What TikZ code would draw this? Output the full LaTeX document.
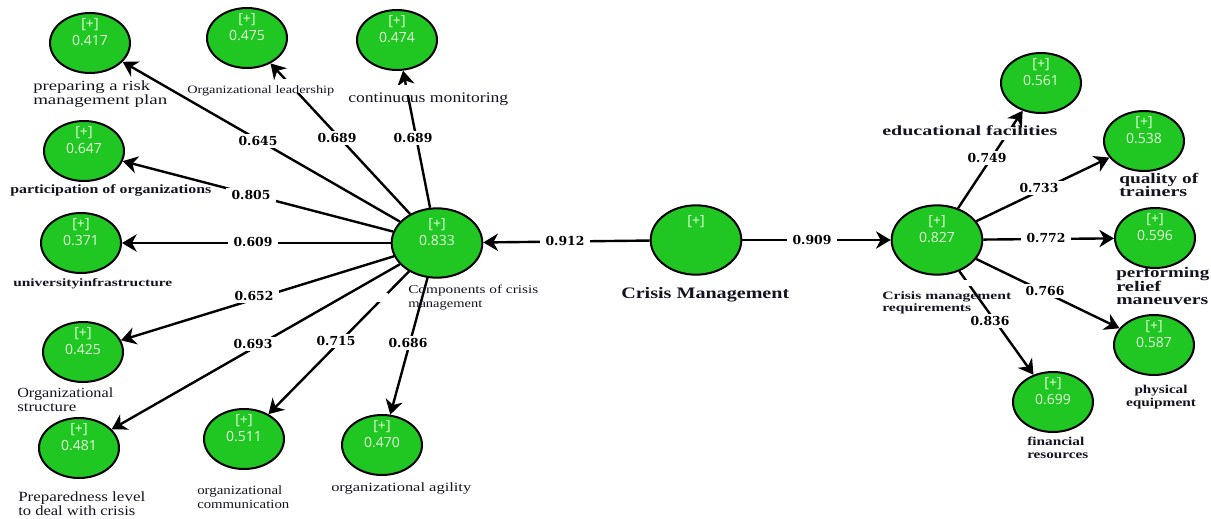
\documentclass[tikz,border=0pt]{standalone}
\usepackage{fontspec}
\usepackage{graphicx}
\setmainfont{Liberation Serif}
\newfontfamily\valfont{Open Sans}
\newfontfamily\wgtfont[BoldFont={DejaVu Serif Bold}]{DejaVu Serif}
\usetikzlibrary{shapes.geometric,arrows.meta}
\newdimen\pxu \pxu=0.75pt
\newcommand{\fitw}[2]{\resizebox{#1\pxu}{\height}{#2}}
\newcommand{\lv}[1]{\makebox[0pt]{\raisebox{-1.9pt}[0pt][0pt]{#1}}\makebox[0pt]{\raisebox{10.9pt}[0pt][0pt]{[+]}}}
\definecolor{blobgreen}{RGB}{32,198,34}
\definecolor{valtext}{RGB}{228,255,220}
\definecolor{inktext}{RGB}{20,20,32}
\tikzset{
  x=0.75pt,y=-0.75pt,
  blob/.style={ellipse,draw=black,line width=1.5pt,fill=blobgreen,inner sep=0pt,
     text=valtext,font=\valfont\fontsize{10.5}{12}\selectfont},
  leaf/.style={blob,minimum width=60pt,minimum height=45pt},
  hub/.style={blob,minimum width=68pt,minimum height=52pt},
  link/.style={draw=black,line width=1.8pt,-{Stealth[length=11pt,width=13pt,inset=3.5pt]}},
  coef/.style={fill=white,inner xsep=4pt,inner ysep=2pt,font=\wgtfont\bfseries\fontsize{9.3}{11}\selectfont,text=black},
  tag/.style={anchor=west,inner sep=0pt,align=left,text=inktext,font=\fontsize{10.5}{10.5}\selectfont},
  tagb/.style={tag,font=\bfseries\fontsize{10}{10}\selectfont},
  patch/.style={fill=white,draw=none}
}
\begin{document}
\begin{tikzpicture}
\useasboundingbox (0,0) rectangle (1211,518);
% nodes
\node[hub] (comp) at (437,243) {\lv{0.833}};
\node[hub] (crisis) at (696,240) {\makebox[0pt]{\raisebox{10.9pt}[0pt][0pt]{[+]}}};
\node[hub] (req) at (937,240) {\lv{0.827}};
\node[leaf] (a) at (90,43) {\lv{0.417}};
\node[leaf] (b) at (247,38) {\lv{0.475}};
\node[leaf] (c) at (397,40) {\lv{0.474}};
\node[leaf] (d) at (84,151) {\lv{0.647}};
\node[leaf] (e) at (81,243) {\lv{0.371}};
\node[leaf] (f) at (83,352) {\lv{0.425}};
\node[leaf] (g) at (79,448) {\lv{0.481}};
\node[leaf] (h) at (244,439) {\lv{0.511}};
\node[leaf] (i) at (382,445) {\lv{0.470}};
\node[leaf] (j) at (1041,83) {\lv{0.561}};
\node[leaf] (k) at (1144,141) {\lv{0.538}};
\node[leaf] (l) at (1155,238) {\lv{0.596}};
\node[leaf] (m) at (1154,345) {\lv{0.587}};
\node[leaf] (n) at (1053,402) {\lv{0.699}};
% connectors
\draw[link] (comp) -- (a);
\draw[link] (comp) -- (b);
\draw[link] (comp) -- (c);
\draw[link] (comp) -- (d);
\draw[link] (comp) -- (e);
\draw[link] (comp) -- (f);
\draw[link] (comp) -- (g);
\draw[link] (comp) -- (h);
\draw[link] (comp) -- (i);
\draw[link] (crisis) -- (comp);
\draw[link] (crisis) -- (req);
\draw[link] (req) -- (j);
\draw[link] (req) -- (k);
\draw[link] (req) -- (l);
\draw[link] (req) -- (m);
\draw[link] (req) -- (n);
% gaps left in the lines under the printed names
\fill[patch] (275,79) rectangle (300,93);
\fill[patch] (395,85) rectangle (412,95);
\fill[patch] (1000,127) rectangle (1020,140);
\fill[patch] (377,293) rectangle (388,302);
\fill[patch] (963,280) rectangle (980,286);
% coefficients
\node[coef] (c1) at (258,141) {0.645};
\node[coef] (c2) at (337,138) {0.689};
\node[coef] (c3) at (413,138) {0.689};
\node[coef] (c4) at (251,195) {0.805};
\node[coef] (c5) at (253,242) {0.609};
\node[coef] (c6) at (254,296) {0.652};
\node[coef] (c7) at (253,344) {0.693};
\node[coef] (c8) at (336,341) {0.715};
\node[coef] (c9) at (408,343) {0.686};
\node[coef] (c10) at (565,241) {0.912};
\node[coef] (c11) at (812,240) {0.909};
\node[coef] (c12) at (987,158) {0.749};
\node[coef] (c13) at (1039,188) {0.733};
\node[coef] (c14) at (1046,238) {0.772};
\node[coef] (c15) at (1045,291) {0.766};
\node[coef] (c16) at (990,321) {0.836};
% names
\node[tag,font=\fontsize{10.5}{10.5}\selectfont] (t1) at (33,94) {\fitw{117}{preparing a risk}\\\fitw{134}{management plan}};
\node[tag,font=\fontsize{8.5}{10}\selectfont] (t2) at (187,91) {\fitw{147}{Organizational leadership}};
\node[tag,font=\fontsize{11}{11}\selectfont] (t3) at (348,99) {\fitw{160}{continuous monitoring}};
\node[tagb,font=\bfseries\fontsize{9.5}{10}\selectfont] (t4) at (10,190) {\fitw{201}{participation of organizations}};
\node[tagb,font=\bfseries\fontsize{8.5}{10}\selectfont] (t5) at (13,284) {\fitw{159}{universityinfrastructure}};
\node[tag] (t6) at (17,400) {\fitw{96}{Organizational}\\\fitw{59}{structure}};
\node[tag] (t7) at (18,504) {\fitw{127}{Preparedness level}\\\fitw{117}{to deal with crisis}};
\node[tag,font=\fontsize{9.5}{10.5}\selectfont] (t8) at (197,497) {\fitw{85}{organizational}\\\fitw{92}{communication}};
\node[tag,font=\fontsize{9.5}{10}\selectfont] (t9) at (331,488) {\fitw{140}{organizational agility}};
\node[tag,font=\fontsize{9}{10.5}\selectfont] (t10) at (408,298) {\fitw{130}{Components of crisis}\\\fitw{74}{management}};
\node[tagb,font=\bfseries\fontsize{12}{12}\selectfont] (t11) at (621,295) {\fitw{168}{Crisis Management}};
\node[tagb,font=\bfseries\fontsize{8.5}{9.3}\selectfont] (t12) at (882,303) {\fitw{129}{Crisis management}\\\fitw{89}{requirements}};
\node[tagb,font=\bfseries\fontsize{10.5}{10.5}\selectfont] (t13) at (882,131) {\fitw{175}{educational facilities}};
\node[tagb,font=\bfseries\fontsize{11}{10.3}\selectfont] (t14) at (1119,185) {\fitw{79}{quality of}\\\fitw{68}{trainers}};
\node[tagb,font=\bfseries\fontsize{11}{10.2}\selectfont] (t15) at (1116,286) {\fitw{93}{performing}\\\fitw{45}{relief}\\\fitw{92}{maneuvers}};
\node[tagb,font=\bfseries\fontsize{9}{9.7}\selectfont,align=center,anchor=center] (t16) at (1161,397) {\fitw{53}{physical}\\\fitw{70}{equipment}};
\node[tagb,font=\bfseries\fontsize{9}{9.7}\selectfont] (t17) at (1027,448) {\fitw{57}{financial}\\\fitw{61}{resources}};
\end{tikzpicture}
\end{document}
